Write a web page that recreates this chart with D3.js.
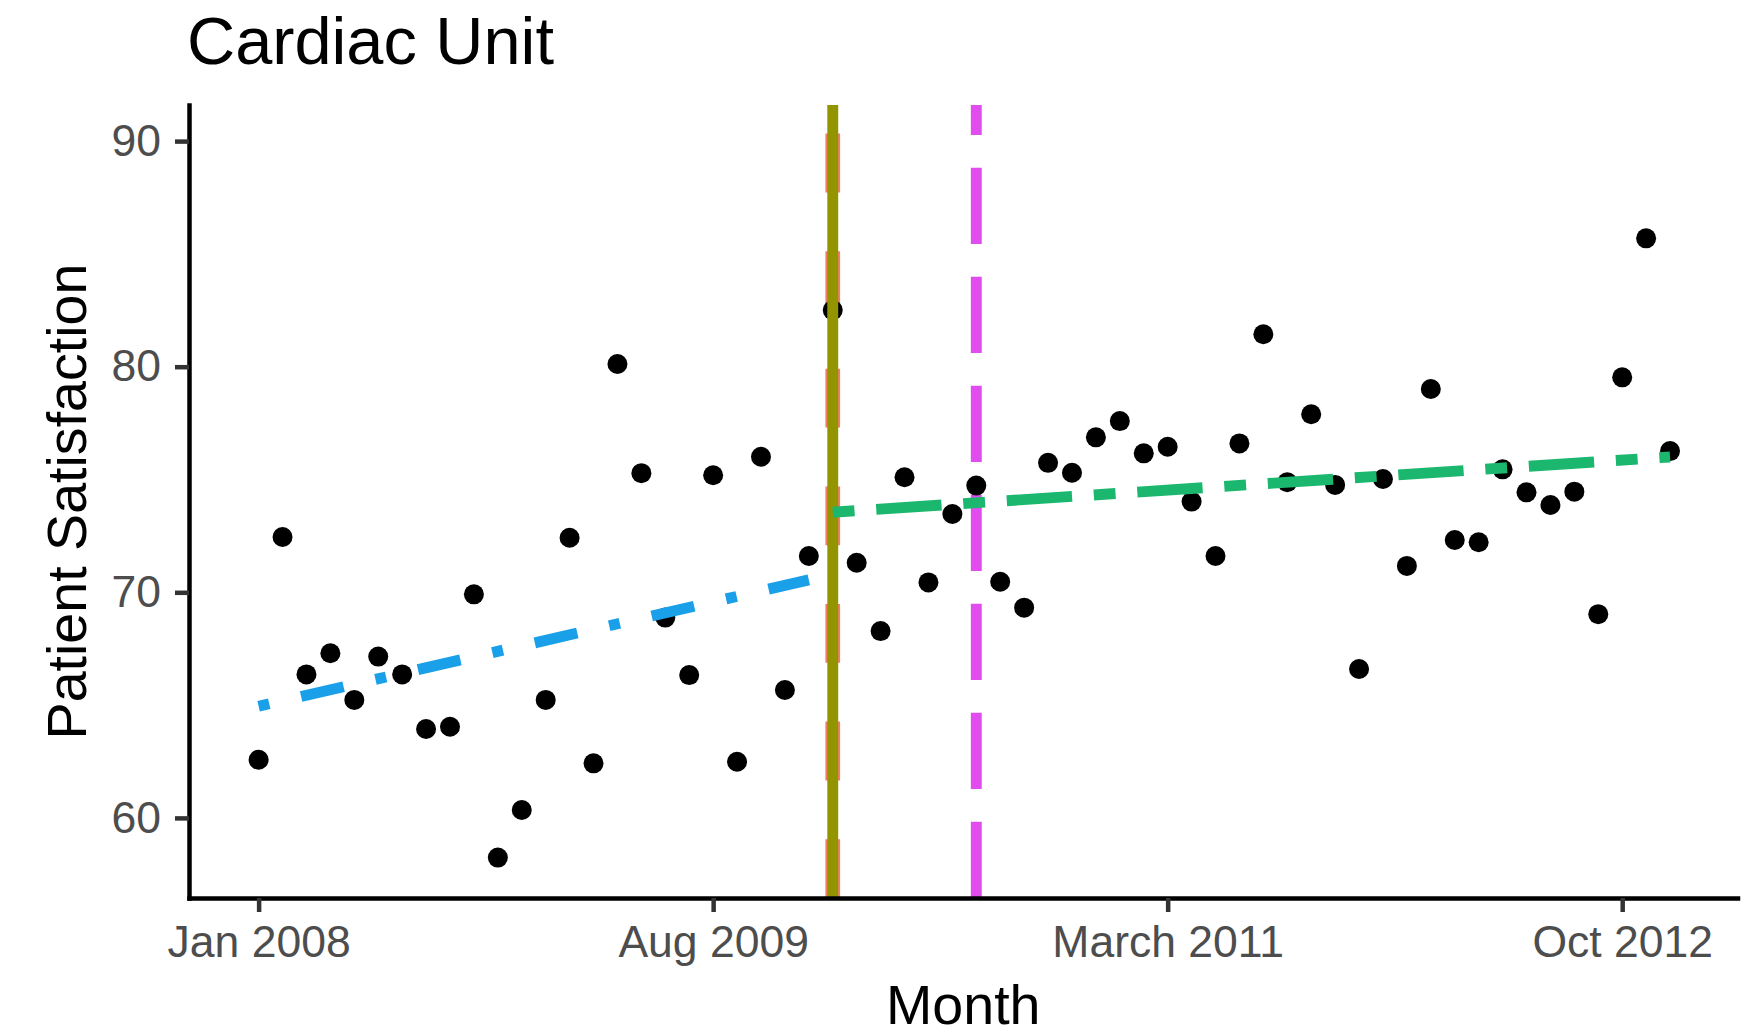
<!DOCTYPE html>
<html>
<head>
<meta charset="utf-8">
<script src="https://cdn.jsdelivr.net/npm/d3@7"></script>
<style>
  html, body { margin: 0; padding: 0; background: #ffffff; }
  svg { display: block; }
  text { font-family: "Liberation Sans", Arial, Helvetica, sans-serif; }
</style>
</head>
<body>
<svg id="chart" width="1741" height="1035"></svg>
<script>
// Monthly patient satisfaction, Jan 2008 (month 0) to Dec 2012 (month 59)
const satisfaction = [
  62.58, 72.45, 66.36, 67.30, 65.23, 67.15, 66.36, 63.94, 64.04, 69.91,
  58.24, 60.35, 65.23, 72.42, 62.42, 80.12, 75.28, 68.88, 66.33, 75.19,
  62.49, 76.01, 65.67, 71.61, 82.51, 71.31, 68.28, 75.10, 70.44, 73.47,
  74.73, 70.47, 69.32, 75.74, 75.30, 76.87, 77.59, 76.16, 76.45, 74.02,
  71.61, 76.60, 81.44, 74.88, 77.89, 74.76, 66.60, 75.02, 71.17, 79.01,
  72.32, 72.22, 75.45, 74.43, 73.87, 74.46, 69.03, 79.53, 85.69, 76.26
];

// Linear trend before and after the change (month index, fitted value)
const trendBefore = [[0, 64.95], [23, 70.55]];
const trendAfter  = [[24, 73.55], [59, 76.00]];

// Months marked with vertical reference lines
const changeMonth = 24;   // Jan 2010
const reviewMonth = 30;   // Jul 2010

const xTickMonths = [0, 19, 38, 57];
const xTickLabels = ["Jan 2008", "Aug 2009", "March 2011", "Oct 2012"];
const yTickValues = [60, 70, 80, 90];

const titleText = "Cardiac Unit";
const xTitle = "Month";
const yTitle = "Patient Satisfaction";

// ---- layout ----
const panel = { left: 189, right: 1737.5, top: 105, bottom: 898 };
const lw = 10.9;          // reference line width; dash units scale with it
const lwWide = 14.7;

const x = d3.scaleLinear().domain([-2.91, 61.82]).range([panel.left, panel.right]);
const y = d3.scaleLinear().domain([56.45, 91.6]).range([panel.bottom, panel.top]);

const svg = d3.select("#chart");

const colors = {
  change: "#939500",
  changeDash: "#F37C68",
  review: "#E04CEE",
  before: "#1AA0E8",
  after: "#1BB76E"
};

const plot = svg.append("g");

// Vertical reference lines, drawn bottom to top
function vline(month, color, width, dash) {
  plot.append("line")
    .attr("x1", x(month)).attr("x2", x(month))
    .attr("y1", panel.bottom).attr("y2", panel.top)
    .attr("stroke", color)
    .attr("stroke-width", width)
    .attr("stroke-linecap", "butt")
    .attr("stroke-dasharray", dash ? dash.join(",") : null);
}

vline(changeMonth, colors.changeDash, lwWide, [4 * lwWide, 4 * lwWide]);
vline(reviewMonth, colors.review, lw, [7 * lw, 3 * lw]);

// Points
plot.append("g").selectAll("circle")
  .data(satisfaction)
  .join("circle")
  .attr("cx", (d, i) => x(i))
  .attr("cy", d => y(d))
  .attr("r", 10)
  .attr("fill", "#000000");

vline(changeMonth, colors.change, lw, null);

// Trend lines
const line = d3.line().x(d => x(d[0])).y(d => y(d[1]));

plot.append("path")
  .attr("d", line(trendBefore))
  .attr("fill", "none")
  .attr("stroke", colors.before)
  .attr("stroke-width", lw)
  .attr("stroke-linecap", "butt")
  .attr("stroke-dasharray", [1, 3, 4, 3].map(v => v * lw).join(","));

plot.append("path")
  .attr("d", line(trendAfter))
  .attr("fill", "none")
  .attr("stroke", colors.after)
  .attr("stroke-width", lw)
  .attr("stroke-linecap", "butt")
  .attr("stroke-dasharray", [2, 2, 6, 2].map(v => v * lw).join(","));

// ---- axes ----
const tickLen = 14;

const xAxis = d3.axisBottom(x)
  .tickValues(xTickMonths)
  .tickFormat((d, i) => xTickLabels[i])
  .tickSize(tickLen)
  .tickSizeOuter(0)
  .tickPadding(13);

const yAxis = d3.axisLeft(y)
  .tickValues(yTickValues)
  .tickFormat(d3.format("d"))
  .tickSize(tickLen)
  .tickSizeOuter(0)
  .tickPadding(14);

function styleAxis(g) {
  g.select(".domain")
    .attr("stroke", "#000000")
    .attr("stroke-width", 4.5)
    .attr("stroke-linecap", "square");
  g.selectAll(".tick line")
    .attr("stroke", "#333333")
    .attr("stroke-width", 4.5);
  g.selectAll(".tick text")
    .attr("fill", "#4D4D4D")
    .style("font-size", "44.5px")
    .style("font-family", "'Liberation Sans', Arial, sans-serif");
}

svg.append("g")
  .attr("transform", `translate(0,${panel.bottom})`)
  .call(xAxis)
  .call(styleAxis);

svg.append("g")
  .attr("transform", `translate(${panel.left},0)`)
  .call(yAxis)
  .call(styleAxis);

// ---- titles ----
svg.append("text")
  .attr("x", 187)
  .attr("y", 64)
  .attr("fill", "#000000")
  .style("font-size", "66.7px")
  .text(titleText);

svg.append("text")
  .attr("x", (panel.left + panel.right) / 2)
  .attr("y", 1024)
  .attr("text-anchor", "middle")
  .attr("fill", "#000000")
  .style("font-size", "55.6px")
  .text(xTitle);

svg.append("text")
  .attr("transform", `translate(86,${(panel.top + panel.bottom) / 2}) rotate(-90)`)
  .attr("text-anchor", "middle")
  .attr("fill", "#000000")
  .style("font-size", "55.6px")
  .text(yTitle);
</script>
</body>
</html>
